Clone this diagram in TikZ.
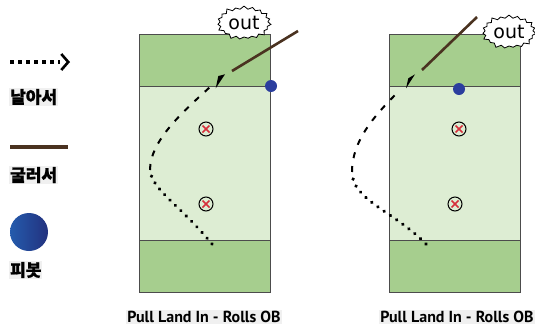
\documentclass[tikz,border=0pt]{standalone}
\usepackage{fontspec}
\setmainfont{PT Sans}
\newfontfamily\kofont[FakeBold=1.2]{Noto Sans CJK KR}
\newfontfamily\outfont{DejaVu Sans}
\usetikzlibrary{arrows.meta,positioning,shapes.symbols}

\definecolor{zonedark}{HTML}{A6CE8E}
\definecolor{zonelight}{HTML}{DDEDD3}
\definecolor{rollbrown}{HTML}{4A3220}
\definecolor{pivotblue}{HTML}{2B3E9E}
\definecolor{markred}{HTML}{D6303C}

\begin{document}
\begin{tikzpicture}[x=1pt,y=-1pt,node distance=0pt]
  \tikzstyle{zone}=[draw=black!70,line width=1pt,minimum width=131pt,outer sep=0pt,inner sep=0pt]
  \tikzstyle{endzone}=[zone,fill=zonedark,minimum height=52pt]
  \tikzstyle{midzone}=[zone,fill=zonelight,minimum height=154pt]
  \tikzstyle{fly dots}=[line width=3.6pt,dash pattern=on 0.1pt off 7.5pt,line cap=round]
  \tikzstyle{fly dashes}=[line width=2pt,dash pattern=on 6pt off 8pt]
  \tikzstyle{roll}=[rollbrown,line width=2.6pt]
  \tikzstyle{pivot}=[circle,fill=pivotblue,minimum size=12pt,inner sep=0pt]
  \tikzstyle{player}=[circle,draw,line width=1pt,minimum size=14pt,inner sep=0pt,
    path picture={\draw[markred,line width=1.6pt]
      ([shift={(-3.5pt,-3.5pt)}]path picture bounding box.center) -- ++(7pt,7pt)
      ([shift={(-3.5pt,3.5pt)}]path picture bounding box.center) -- ++(7pt,-7pt);}]
  \tikzstyle{outcloud}=[starburst,draw,line width=0.8pt,fill=white,starburst points=19,
    starburst point height=4pt,minimum width=56pt,minimum height=36pt,inner sep=0pt,
    font=\outfont\fontsize{19}{19}\selectfont]
  \tikzstyle{legtext}=[fill=black!6,inner sep=1pt,anchor=west,
    font=\kofont\bfseries\fontsize{17}{17}\selectfont]
  \tikzstyle{caption}=[fill=black!6,inner sep=1.5pt,font=\bfseries\fontsize{16}{16}\selectfont]

  \useasboundingbox (0,0) rectangle (535,330);

  % legend
  \coordinate (flyA) at (10,62);
  \coordinate (flyB) at (70,62);
  \draw[line width=3.4pt,dash pattern=on 4pt off 4pt] (flyA) -- ([xshift=-10pt]flyB);
  \draw[line width=2.6pt,-{Straight Barb[length=7pt,width=16pt]}] ([xshift=-2pt]flyB) -- (flyB);
  \node[legtext] (flyTxt) at (9,97) {날아서};

  \coordinate (rollA) at (10,147);
  \coordinate (rollB) at (68,147);
  \draw[roll,line width=4pt] (rollA) -- (rollB);
  \node[legtext] (rollTxt) at (9,175) {굴러서};

  \node[circle,minimum size=38pt,inner sep=0pt,left color=pivotblue!85!cyan,
    right color=pivotblue!80!black] (pivDot) at (29,232) {};
  \node[legtext] (pivTxt) at (9,270) {피봇};

  % left field
  \node[endzone,anchor=north west] (topL) at (139.5,34) {};
  \node[midzone,below=of topL] (midL) {};
  \node[endzone,below=of midL] (botL) {};
  \node[player] (xL1) at (206,129) {};
  \node[player] (xL2) at (206,204) {};

  \coordinate (kickL) at (212,244);
  \coordinate (turnL) at (150,170);
  \coordinate (catchL) at (210,87);
  \coordinate (tipL) at (215.7,88.3);
  \coordinate (landL) at (232,71);
  \coordinate (exitL) at (298,31);
  \draw[fly dots] (kickL) .. controls (180,205) and (152,190) .. (turnL);
  \draw[fly dashes] (turnL) .. controls (150,140) and (185,110) .. (catchL);
  \fill (tipL) -- ++(2.6,-12.3) -- ++(6.7,-1.7) -- cycle;
  \draw[roll] (landL) -- (exitL);
  \node[pivot] (pivL) at (271,86) {};
  \node[outcloud] (outL) at (244,23) {out};
  \node[caption] (capL) at (204,317) {Pull Land In - Rolls OB};

  % right field
  \node[endzone,anchor=north west] (topR) at (389,34) {};
  \node[midzone,below=of topR] (midR) {};
  \node[endzone,below=of midR] (botR) {};
  \node[player] (xR1) at (459,129) {};
  \node[player] (xR2) at (455,204) {};

  \coordinate (kickR) at (426,244);
  \coordinate (turnR) at (352,172);
  \coordinate (catchR) at (400,90);
  \coordinate (tipR) at (406,88.3);
  \coordinate (landR) at (422,70);
  \coordinate (exitR) at (477,17);
  \draw[fly dots] (kickR) .. controls (395,212) and (352,200) .. (turnR);
  \draw[fly dashes] (turnR) .. controls (352,140) and (375,115) .. (catchR);
  \fill (tipR) -- ++(2.3,-10) -- ++(6.7,-4) -- cycle;
  \draw[roll] (landR) -- (exitR);
  \node[pivot] (pivR) at (459,89) {};
  \node[outcloud] (outR) at (509,32) {out};
  \node[caption] (capR) at (457,317) {Pull Land In - Rolls OB};
\end{tikzpicture}
\end{document}
